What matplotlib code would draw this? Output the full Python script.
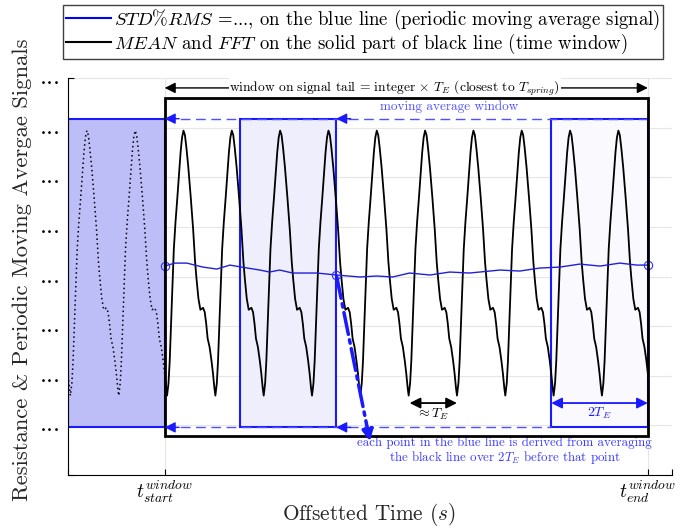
import matplotlib
matplotlib.use("Agg")
import matplotlib.pyplot as plt
from matplotlib.patches import Rectangle
from matplotlib.lines import Line2D
import numpy as np

plt.rcParams['font.family'] = ['cmr10', 'DejaVu Serif']
plt.rcParams['mathtext.fontset'] = 'cm'
plt.rcParams['axes.unicode_minus'] = False
plt.rcParams['axes.formatter.use_mathtext'] = True

# time is in units of T_E, window from t_start = 0 to t_end = 10
t_start = 0.0
t_end = 10.0
period = 1.0
first_min = 0.05

# one period of the black signal, from one minimum to the next
cycle_phase = [0.00, 0.03, 0.055, 0.08, 0.10, 0.14, 0.175, 0.21, 0.25, 0.28, 0.31,
               0.34, 0.37, 0.40, 0.44, 0.49, 0.54, 0.58, 0.61, 0.65, 0.69, 0.72,
               0.745, 0.78, 0.81, 0.84, 0.88, 0.92, 0.95, 0.98]
cycle_value = [1.60, 1.85, 2.30, 3.00, 3.50, 4.55, 5.10, 5.55, 6.10, 6.50, 6.80,
               6.94, 6.85, 6.60, 6.20, 5.60, 4.95, 4.30, 3.95, 3.55, 3.33, 3.35,
               3.37, 3.28, 3.05, 2.75, 2.58, 2.30, 2.05, 1.75]
cycles = range(-3, 11)

# periodic moving average (blue line)
ma_t = [0.0, 0.21, 0.46, 0.79, 1.08, 1.35, 1.59, 1.97, 2.17, 2.38, 2.65, 3.15, 3.56,
        4.04, 4.39, 4.72, 5.07, 5.49, 5.90, 6.31, 6.73, 6.94, 7.35, 7.76, 8.18, 8.59,
        9.01, 9.42, 9.77, 10.0]
ma_y = [4.21, 4.27, 4.27, 4.19, 4.15, 4.23, 4.19, 4.13, 4.09, 4.13, 4.07, 4.07, 4.03,
        3.99, 4.01, 3.99, 4.07, 4.03, 4.09, 4.07, 4.11, 4.13, 4.11, 4.17, 4.19, 4.25,
        4.21, 4.27, 4.23, 4.23]
ma_marks_t = [0.0, 3.55, 10.0]
ma_marks_y = [4.21, 4.03, 4.23]

# 2T_E boxes (start, fill colour)
box_starts = [-2.0, 1.55, 8.0]
box_fills = ['#bdbdf8', '#eeeefd', '#f9f9fe']
box_low, box_high = 0.96, 7.18

sig_t = np.concatenate([k * period + first_min + np.array(cycle_phase) for k in cycles])
sig_y = np.tile(cycle_value, len(cycles))

fig = plt.figure(figsize=(6.85, 5.32), dpi=100)
ax = fig.add_axes([68 / 685, 1 - 475 / 532, 604 / 685, 397 / 532])
ax.set_xlim(-2, 10.5)
ax.set_ylim(0, 8)

blue = '#1a1aff'
for x0, fc in zip(box_starts, box_fills):
    ax.add_patch(Rectangle((x0, box_low), 2 * period, box_high - box_low,
                           facecolor=fc, edgecolor=blue, lw=1.5, zorder=2))

# black signal: dotted before the window, solid inside it
pre, = ax.plot(sig_t, sig_y, color='k', ls=(0, (1, 2)), lw=1.1, zorder=3)
pre.set_clip_path(Rectangle((-2, 0), 2, 8, transform=ax.transData))
main, = ax.plot(sig_t, sig_y, color='k', lw=1.3, zorder=3)
main.set_clip_path(Rectangle((t_start, 0), t_end - t_start, 8, transform=ax.transData))

ax.plot(ma_t, ma_y, color='#2020d8', lw=1.0, zorder=4)
ax.plot(ma_marks_t, ma_marks_y, 'o', mfc='none', mec='#3030ff', ms=6, mew=0.8, zorder=4)

# time window box
ax.add_patch(Rectangle((t_start, 0.78), t_end - t_start, 7.6 - 0.78,
                       facecolor='none', edgecolor='k', lw=2, zorder=5))

# dashed moving-window guides
dash_col = '#5050ff'
ax.plot([t_start, t_end], [box_high, box_high], color=dash_col, ls=(0, (7, 4)), lw=1, zorder=4)
ax.plot([t_start, 8.0], [box_low, box_low], color=dash_col, ls=(0, (7, 4)), lw=1, zorder=4)
for xh in [t_start, 3.55]:
    for yh in [box_high, box_low]:
        ax.annotate('', xy=(xh, yh), xytext=(xh + 0.3, yh),
                    arrowprops=dict(arrowstyle='-|>', color=blue, lw=1,
                                    mutation_scale=16, shrinkA=0, shrinkB=0), zorder=6)
ax.text(5.88, 7.42, 'moving average window', color=dash_col, fontsize=9.5,
        ha='center', va='center')

# window length arrow
ax.annotate('', xy=(t_start, 7.8), xytext=(t_end, 7.8),
            arrowprops=dict(arrowstyle='<|-|>', color='k', lw=1, mutation_scale=16,
                            shrinkA=0, shrinkB=0))
ax.text(4.76, 7.8, r'window on signal tail = integer $\times$ $T_E$ (closest to $T_{spring}$)',
        fontsize=9.7, ha='center', va='center',
        bbox=dict(facecolor='white', edgecolor='none', pad=0.5))

# period arrows
ax.annotate('', xy=(5.07, 1.45), xytext=(6.05, 1.45),
            arrowprops=dict(arrowstyle='<|-|>', color='k', lw=1.3, mutation_scale=16,
                            shrinkA=0, shrinkB=0))
ax.text(5.55, 1.22, r'$\approx T_E$', fontsize=10, ha='center', va='center')
ax.annotate('', xy=(8.0, 1.45), xytext=(10.0, 1.45),
            arrowprops=dict(arrowstyle='<|-|>', color=blue, lw=1.3, mutation_scale=16,
                            shrinkA=0, shrinkB=0), zorder=6)
ax.text(9.0, 1.25, r'$2T_E$', color=blue, fontsize=10, ha='center', va='center')

# dash-dot arrow from the moving average point
ax.annotate('', xy=(4.25, 0.68), xytext=(3.56, 4.0),
            arrowprops=dict(arrowstyle='-|>', color=blue, lw=2.5, ls='-.',
                            mutation_scale=16, shrinkA=0, shrinkB=0), zorder=6)
ax.text(7.04, 0.48, 'each point in the blue line is derived from averaging\n'
        r'the black line over $2T_E$ before that point',
        color='#3c3cff', fontsize=9.3, ha='center', va='center', linespacing=1.0)

# axes styling
for s in ['top', 'right']:
    ax.spines[s].set_visible(False)
ax.set_yticks(range(0, 9))
ax.set_yticklabels([''] + ['...'] * 8, fontsize=18, va='center')
ax.set_xticks([-2, t_start, t_end, 10.5])
ax.set_xticklabels(['', r'$t_{start}^{window}$', r'$t_{end}^{window}$', ''], fontsize=14)
ax.tick_params(direction='in', length=4, width=0.8)
ax.tick_params(axis='y', pad=5)
ax.tick_params(axis='x', pad=3)
ax.grid(True, color='#e6e6e6', lw=0.8)
ax.set_axisbelow(True)

fig.text(22 / 685, 1 - 270 / 532, 'Resistance & Periodic Moving Avergae Signals',
         rotation=90, fontsize=16.3, ha='center', va='center', color='#262626')
fig.text(369 / 685, 1 - 515 / 532, r'Offsetted Time $(s)$', fontsize=15.3,
         ha='center', va='center', color='#262626')

handles = [Line2D([], [], color='#0000ff', lw=1.5), Line2D([], [], color='k', lw=1.5)]
labels = [r'$STD\%RMS$ =..., on the blue line (periodic moving average signal)',
          r'$MEAN$ and $FFT$ on the solid part of black line (time window)']
fig.legend(handles, labels, loc='upper left', bbox_to_anchor=(63 / 685, 1 - 5 / 532),
           fontsize=13.5, fancybox=False, edgecolor='#404040', framealpha=1,
           handlelength=2.4, handletextpad=0.15, borderpad=0.15, labelspacing=0.0,
           borderaxespad=0)

fig.savefig('out.png', dpi=100)
